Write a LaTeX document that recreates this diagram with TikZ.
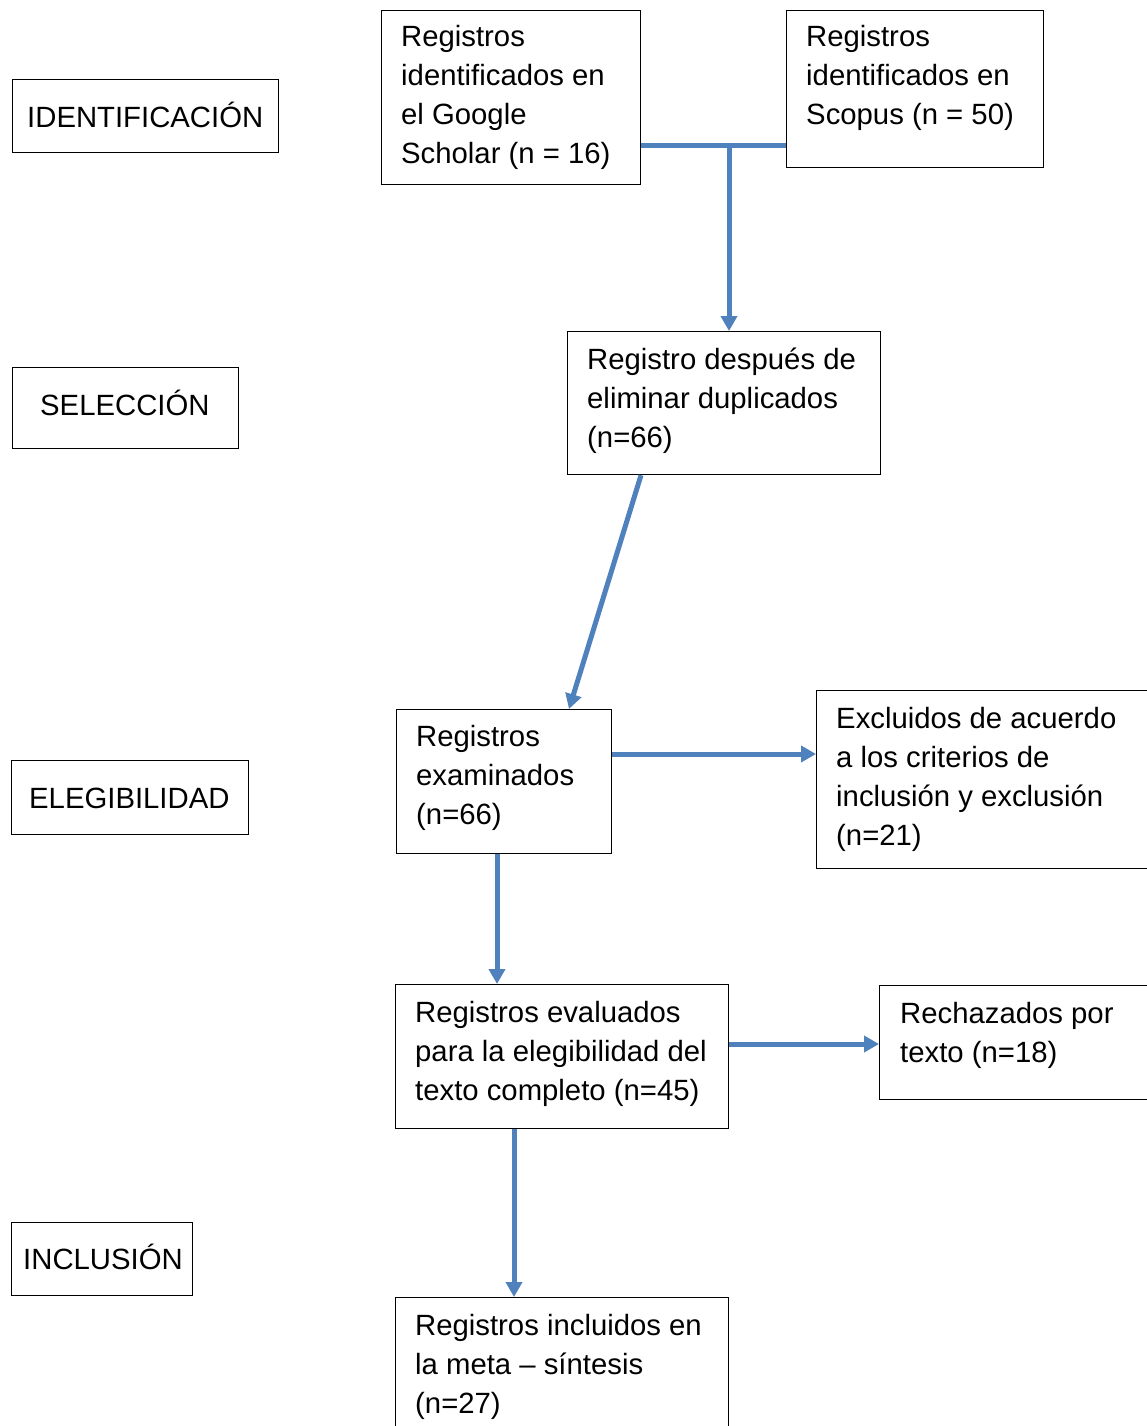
\documentclass[tikz,border=0pt]{standalone}
\usepackage{fontspec}
\setmainfont{Liberation Sans}
\usetikzlibrary{arrows.meta,calc}
\definecolor{flowblue}{HTML}{4F81BD}
\newcommand{\ml}[1]{\begin{tabular}[t]{@{}l@{}}#1\end{tabular}}
\begin{document}
\begin{tikzpicture}[x=1pt,y=-1pt,
  box/.style={draw=black, line width=1.2pt, fill=white, inner sep=0pt, anchor=north west},
  txt/.style={anchor=base west, inner sep=0pt, font=\fontsize{29.3}{39}\selectfont},
  conn/.style={draw=flowblue, line width=5pt},
  arr/.style={conn, -{Triangle[length=15pt,width=16pt]}}]
\useasboundingbox (0,0) rectangle (1147,1426);
\clip (0,0) rectangle (1147,1426);
\fill[white] (0,0) rectangle (1147,1426);

% stage labels
\node[box, minimum width=266, minimum height=73] (l1) at (12,79) {};
\node[txt] (l1t) at (27,128) {IDENTIFICACIÓN};
\node[box, minimum width=226, minimum height=81] (l2) at (12,367) {};
\node[txt] (l2t) at (40,415) {SELECCIÓN};
\node[box, minimum width=237, minimum height=74] (l3) at (11,760) {};
\node[txt] (l3t) at (29,808) {ELEGIBILIDAD};
\node[box, minimum width=181, minimum height=73] (l4) at (11,1222) {};
\node[txt] (l4t) at (23,1269) {INCLUSIÓN};

% boxes
\node[box, minimum width=259, minimum height=174] (A) at (381,10) {};
\node[txt] (At) at (401,47) {\ml{Registros\\identificados en\\el Google\\Scholar (n = 16)}};
\node[box, minimum width=257, minimum height=157] (B) at (786,10) {};
\node[txt] (Bt) at (806,47) {\ml{Registros\\identificados en\\Scopus (n = 50)}};
\node[box, minimum width=313, minimum height=143] (C) at (567,331) {};
\node[txt] (Ct) at (587,369) {\ml{Registro después de\\eliminar duplicados\\(n=66)}};
\node[box, minimum width=215, minimum height=144] (D) at (396,709) {};
\node[txt] (Dt) at (416,746) {\ml{Registros\\examinados\\(n=66)}};
\node[box, minimum width=360, minimum height=178] (E) at (816,690) {};
\node[txt] (Et) at (836,728) {\ml{Excluidos de acuerdo\\a los criterios de\\inclusión y exclusión\\(n=21)}};
\node[box, minimum width=333, minimum height=144] (F) at (395,984) {};
\node[txt] (Ft) at (415,1022) {\ml{Registros evaluados\\para la elegibilidad del\\texto completo (n=45)}};
\node[box, minimum width=300, minimum height=114] (G) at (879,985) {};
\node[txt] (Gt) at (900,1023) {\ml{Rechazados por\\texto (n=18)}};
\node[box, minimum width=333, minimum height=160] (H) at (395,1297) {};
\node[txt] (Ht) at (415,1335) {\ml{Registros incluidos en\\la meta -- síntesis\\(n=27)}};

% connectors
\coordinate (j) at (729,145);
\draw[conn] (A.east |- j) -- (B.west |- j);
\draw[arr] (j) -- (C.north -| j);

\coordinate (cd1) at (641,0);
\coordinate (cd2) at (569,0);
\draw[arr] (C.south -| cd1) -- (D.north -| cd2);

\coordinate (de) at (0,754);
\draw[arr] (D.east |- de) -- (E.west |- de);

\coordinate (df) at (497,0);
\draw[arr] (D.south -| df) -- (F.north -| df);

\coordinate (fg) at (0,1044);
\draw[arr] (F.east |- fg) -- (G.west |- fg);

\coordinate (fh) at (514,0);
\draw[arr] (F.south -| fh) -- (H.north -| fh);
\end{tikzpicture}
\end{document}
